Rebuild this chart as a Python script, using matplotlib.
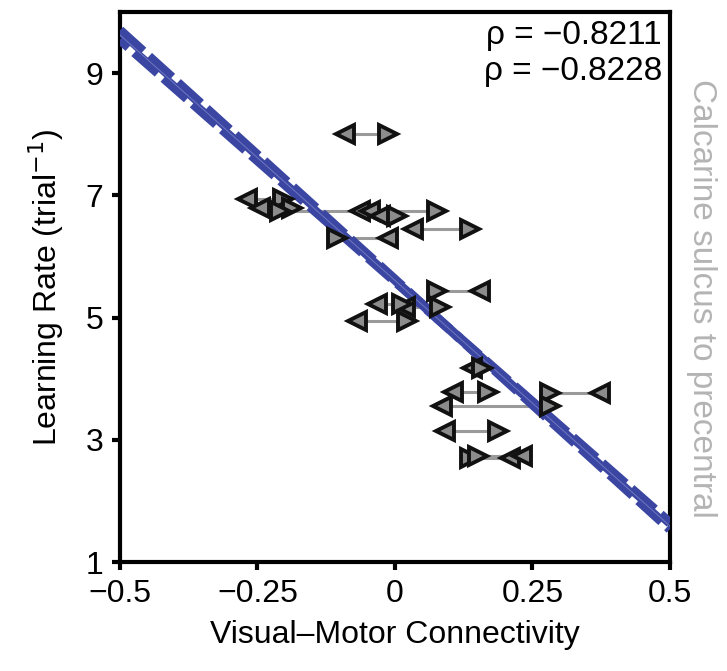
import matplotlib.pyplot as plt
import numpy as np

plt.rcParams["font.family"] = ["Liberation Sans", "DejaVu Sans"]

# each subject: x of left-pointing marker, x of right-pointing marker, learning rate
x_left = [-0.269, -0.245, -0.064, -0.045, -0.027, 0.033, -0.013, -0.091,
          0.155, -0.033, -0.069, 0.018, 0.140, 0.105, 0.373, 0.085, 0.091,
          0.209, 0.231]
x_right = [-0.204, -0.187, -0.209, 0.076, 0.004, 0.136, -0.105, -0.013,
           0.076, 0.013, 0.022, 0.082, 0.158, 0.169, 0.282, 0.282, 0.187,
           0.136, 0.151]
rate = [6.94, 6.80, 6.75, 6.75, 6.67, 6.45, 6.31, 8.00,
        5.44, 5.23, 4.95, 5.18, 4.17, 3.78, 3.76, 3.56, 3.15,
        2.71, 2.73]

fit_x = [-0.5, 0.5]
fit_a = [9.70, 1.54]
fit_b = [9.55, 1.64]

rho_labels = ["\u03c1 = \u22120.8211", "\u03c1 = \u22120.8228"]

xticks = [-0.5, -0.25, 0, 0.25, 0.5]
xtick_labels = ["\u22120.5", "\u22120.25", "0", "0.25", "0.5"]
yticks = [1, 3, 5, 7, 9]

blue = "#3b46a3"

fig = plt.figure(figsize=(7.27, 6.71), dpi=100)
ax = fig.add_axes([0.165, 0.1624, 0.7566, 0.8196])

for xl, xr, r in zip(x_left, x_right, rate):
    ax.plot([xl, xr], [r, r], color="#9a9a9a", lw=2.2, zorder=2)

ax.plot(fit_x, fit_a, color=blue, lw=7, ls=(0, (3.2, 0.8)),
        dash_capstyle="butt", zorder=3)
ax.plot(fit_x, fit_b, color=blue, lw=7, ls=(2.0, (3.2, 0.8)),
        dash_capstyle="butt", zorder=3)
ax.plot(fit_x, [(a + b) / 2 for a, b in zip(fit_a, fit_b)], color="#6f78c0",
        lw=0.7, zorder=3)

ax.plot(x_left, rate, ls="none", marker="<", ms=13, mfc="#8c8c8c", mec="#111111",
        mew=2.8, zorder=4)
ax.plot(x_right, rate, ls="none", marker=">", ms=13, mfc="#8c8c8c", mec="#111111",
        mew=2.8, zorder=4)

ax.set_xlim(-0.5, 0.5)
ax.set_ylim(1, 10)
ax.set_xticks(xticks)
ax.set_xticklabels(xtick_labels)
ax.set_yticks(yticks)
ax.tick_params(direction="out", length=6, width=3, labelsize=23, pad=6)
for spine in ax.spines.values():
    spine.set_linewidth(3)

ax.set_xlabel("Visual\u2013Motor Connectivity", fontsize=23, labelpad=8)
ax.set_ylabel("Learning Rate (trial$^{-1}$)", fontsize=23, labelpad=14)

ax.text(0.985, 0.985, rho_labels[0], transform=ax.transAxes, ha="right", va="top",
        fontsize=24)
ax.text(0.985, 0.92, rho_labels[1], transform=ax.transAxes, ha="right", va="top",
        fontsize=24)

fig.text(0.965, 0.555, "Calcarine sulcus to precentral", rotation=-90,
         ha="center", va="center", fontsize=24, color="#b4b4b4")

fig.savefig("out.png", dpi=100)
